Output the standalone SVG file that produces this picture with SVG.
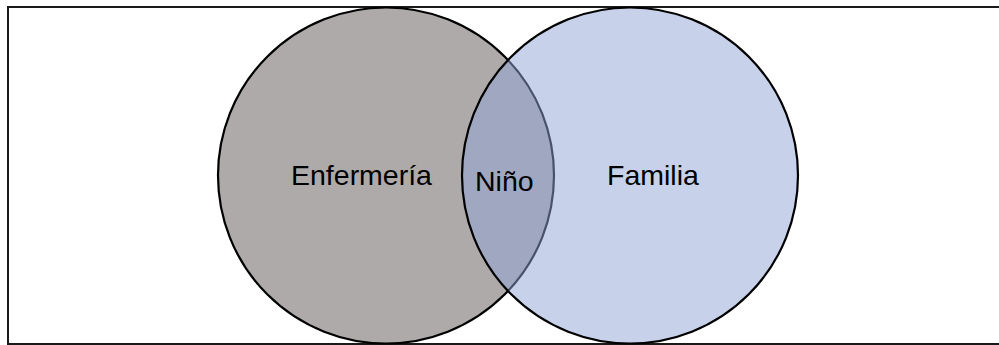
<svg xmlns="http://www.w3.org/2000/svg" width="999" height="345" viewBox="0 0 999 345">
  <style>
    .circle { stroke: #000; stroke-width: 2.2; }
    .label { font-family: "Liberation Sans", Arial, sans-serif; font-size: 28.5px; fill: #000; }
  </style>
  <rect x="0" y="0" width="999" height="345" fill="#fff"/>
  <rect id="frame" x="8" y="7" width="1010" height="337" fill="none" stroke="#1a1a1a" stroke-width="2"/>
  <g id="enfermeria">
    <circle class="circle" cx="386" cy="175.5" r="168" fill="#aeaaaa"/>
  </g>
  <g id="familia">
    <circle class="circle" cx="630" cy="175.5" r="168" fill="#8fa5d5" fill-opacity="0.5"/>
  </g>
  <g id="labels">
    <text class="label" x="291" y="185">Enfermería</text>
    <text class="label" x="475" y="191">Niño</text>
    <text class="label" x="607" y="185">Familia</text>
  </g>
  <g id="connectors"/>
</svg>
